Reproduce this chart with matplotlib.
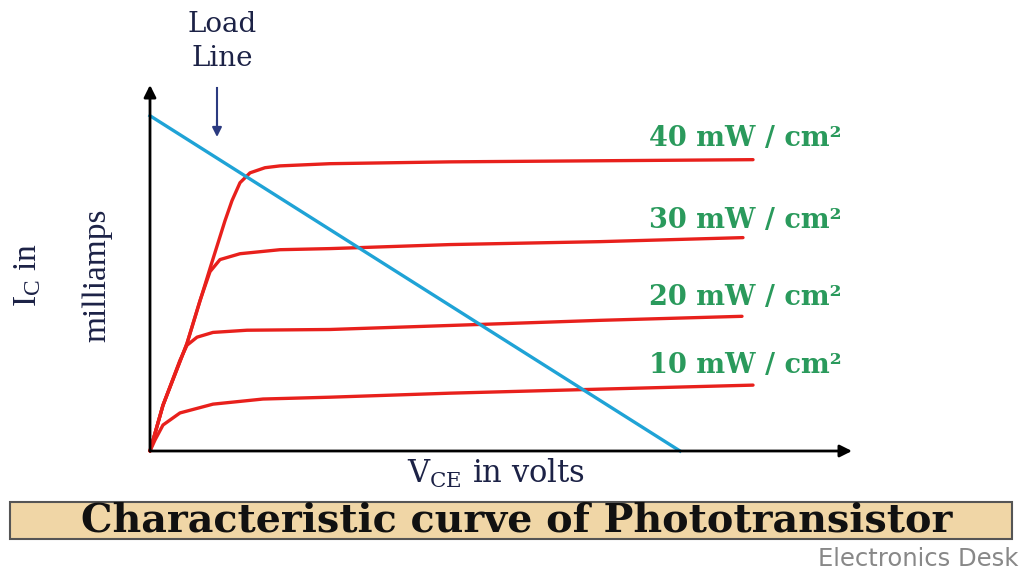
import numpy as np
import matplotlib
matplotlib.use("Agg")
import matplotlib.pyplot as plt
from matplotlib.patches import Rectangle

# curve data (VCE in volts, IC in mA, arbitrary scale)
vce_10 = [0, 0.071, 0.185, 0.427, 0.897, 1.61, 2.564, 4.274, 6.41, 8.59]
ic_10 = [0, 0.30, 0.71, 1.04, 1.28, 1.42, 1.47, 1.58, 1.69, 1.80]

vce_20 = [0, 0.185, 0.427, 0.527, 0.67, 0.897, 1.382, 2.564, 4.274, 6.41, 8.433]
ic_20 = [0, 1.25, 2.48, 2.89, 3.11, 3.24, 3.30, 3.32, 3.43, 3.57, 3.68]

vce_30 = [0, 0.185, 0.527, 0.712, 0.855, 0.997, 1.282, 1.852, 2.564, 4.274, 6.41, 8.447]
ic_30 = [0, 1.25, 2.94, 4.11, 4.90, 5.23, 5.39, 5.50, 5.53, 5.64, 5.72, 5.83]

vce_40 = [0, 0.185, 0.527, 0.855, 1.068, 1.168, 1.282, 1.425, 1.638, 1.852, 2.564, 4.274, 6.41, 8.59]
ic_40 = [0, 1.25, 2.94, 4.99, 6.29, 6.84, 7.33, 7.60, 7.74, 7.79, 7.85, 7.90, 7.93, 7.96]

load_vce = [0, 7.55]
load_ic = [9.16, 0]

labels = ["10 mW/cm²", "20 mW/cm²", "30 mW/cm²", "40 mW/cm²"]
label_y = [2.34, 4.20, 6.29, 8.53]

fig = plt.figure(figsize=(10.3, 5.69), dpi=100)
ax = fig.add_axes([150 / 1030, 118 / 569, 702 / 1030, 366 / 569])
ax.set_xlim(0, 10)
ax.set_ylim(0, 10)
ax.axis("off")

red = "#e8201c"
for xs, ys in [(vce_10, ic_10), (vce_20, ic_20), (vce_30, ic_30), (vce_40, ic_40)]:
    ax.plot(xs, ys, color=red, lw=2.4, solid_capstyle="round", solid_joinstyle="round", clip_on=False)
ax.plot(load_vce, load_ic, color="#1fa3d6", lw=2.4, clip_on=False)

# axes arrows
ax.annotate("", xy=(1, 0), xytext=(0, 0), xycoords="axes fraction",
            arrowprops=dict(arrowstyle="-|>", color="black", lw=2, mutation_scale=18, shrinkA=0, shrinkB=0))
ax.annotate("", xy=(0, 1), xytext=(0, 0), xycoords="axes fraction",
            arrowprops=dict(arrowstyle="-|>", color="black", lw=2, mutation_scale=18, shrinkA=0, shrinkB=0))

for lab, yy in zip(labels, label_y):
    ax.text(9.85, yy, lab.replace("/", " / "), color="#2a9a5c", fontsize=19.5, fontweight="bold",
            family="DejaVu Serif", ha="right", va="center")

# load line annotation
fig.text(222 / 1030, 1 - 24 / 569, "Load", color="#1c2246", fontsize=20, family="DejaVu Serif",
         ha="center", va="center")
fig.text(222 / 1030, 1 - 58 / 569, "Line", color="#1c2246", fontsize=20, family="DejaVu Serif",
         ha="center", va="center")
fig.add_artist(plt.Line2D([217 / 1030, 217 / 1030], [1 - 88 / 569, 1 - 128 / 569], color="#2b3a80", lw=1.5))
ax.annotate("", xy=(217 / 1030, 1 - 137 / 569), xytext=(217 / 1030, 1 - 120 / 569), xycoords="figure fraction",
            arrowprops=dict(arrowstyle="-|>", color="#2b3a80", lw=1.5, mutation_scale=14, shrinkA=0, shrinkB=0))

# axis labels
fig.text(28 / 1030, 1 - 275 / 569, r"$\mathregular{I_C}$ in", rotation=90, fontsize=24,
         family="Liberation Serif", color="#1c2246", ha="center", va="center")
fig.text(97 / 1030, 1 - 275 / 569, "milliamps", rotation=90, fontsize=24,
         family="Liberation Serif", color="#1c2246", ha="center", va="center")
fig.text(496 / 1030, 1 - 473 / 569, r"$\mathregular{V_{CE}}$ in volts", fontsize=22,
         family="DejaVu Serif", color="#1c2246", ha="center", va="center")

# title box
fig.patches.append(Rectangle((10 / 1030, 1 - 539 / 569), 1002 / 1030, 37 / 569, transform=fig.transFigure,
                             facecolor="#f0d6a6", edgecolor="#555555", lw=1.5))
fig.text(517 / 1030, 1 - 521 / 569, "Characteristic curve of Phototransistor", fontsize=28.5,
         fontweight="bold", family="DejaVu Serif", color="#111111", ha="center", va="center")
fig.text(1018 / 1030, 1 - 559 / 569, "Electronics Desk", fontsize=17.5, family="DejaVu Sans",
         color="#888888", ha="right", va="center")

fig.savefig("out.png", dpi=100)
